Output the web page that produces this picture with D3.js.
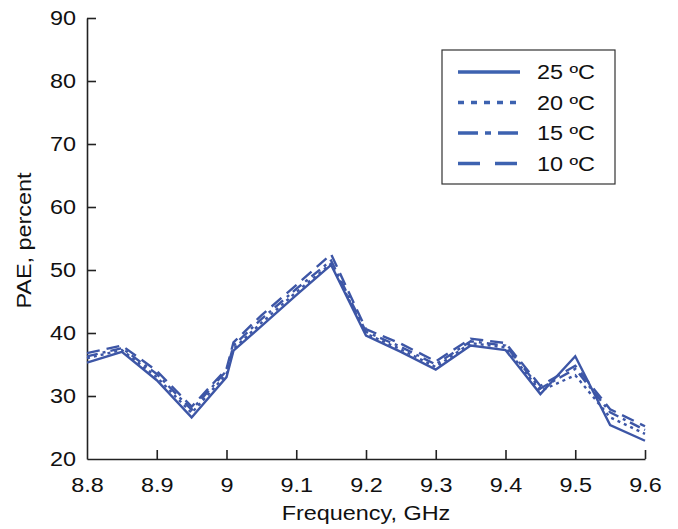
<!DOCTYPE html>
<html>
<head>
<meta charset="utf-8">
<script src="https://cdn.jsdelivr.net/npm/d3@7"></script>
<style>
  body { margin: 0; background: #fff; }
  svg text { font-family: "Liberation Sans", Arial, sans-serif; fill: #111; }
</style>
</head>
<body>
<div id="chart"></div>
<script>
"use strict";

// Data
var freq = [8.8, 8.85, 8.9, 8.95, 9.0, 9.01, 9.05, 9.1, 9.15, 9.2, 9.25, 9.3, 9.35, 9.4, 9.45, 9.5, 9.55, 9.6];
var pae25 = [35.3, 37.0, 32.5, 26.6, 33.0, 37.2, 41.1, 46.0, 50.8, 39.6, 37.0, 34.2, 38.0, 37.3, 30.3, 36.3, 25.4, 22.9];
var pae20 = [36.0, 37.3, 33.0, 27.3, 33.5, 37.5, 41.6, 46.5, 51.0, 39.9, 37.4, 34.6, 38.4, 37.7, 30.8, 33.3, 26.6, 24.0];
var pae15 = [36.3, 37.6, 33.5, 27.8, 34.0, 38.0, 42.2, 47.0, 51.5, 40.2, 37.8, 35.0, 38.7, 38.0, 31.2, 34.3, 27.4, 24.6];
var pae10 = [36.8, 38.0, 34.0, 28.3, 34.3, 38.5, 42.8, 47.6, 52.5, 40.6, 38.3, 35.5, 39.1, 38.4, 31.6, 34.8, 27.9, 25.2];
var seriesNames = ["25 \u00baC", "20 \u00baC", "15 \u00baC", "10 \u00baC"];
var xTicks = [8.8, 8.9, 9.0, 9.1, 9.2, 9.3, 9.4, 9.5, 9.6];
var yTicks = [20, 30, 40, 50, 60, 70, 80, 90];

var series = [pae25, pae20, pae15, pae10];
var dashes = [null, "3,4", "11,5,3,5", "13,7"];
var legendDashes = [null, "6,7", "20,7,6,7", "22,15"];
var color = "#3d56a6";

//
// Setup Variables
//
var canvasWidth = 678, canvasHeight = 529;
var margin = { left: 87, top: 18, right: 33, bottom: 70 };
var width = canvasWidth - margin.left - margin.right;
var height = canvasHeight - margin.top - margin.bottom;

var x = d3.scaleLinear().domain([8.8, 9.6]).range([0, width]);
var y = d3.scaleLinear().domain([20, 90]).range([height, 0]);

//
// Draw Canvas
//
var svg = d3.select("#chart")
  .append("svg")
    .attr("width", canvasWidth)
    .attr("height", canvasHeight)
  .append("g")
    .attr("transform", "translate(" + margin.left + "," + margin.top + ")");

//
// Axes
//
var xAxis = d3.axisTop(x)
  .tickValues(xTicks)
  .tickSize(9)
  .tickSizeOuter(0)
  .tickFormat(function(d) { return d3.format("")(+d.toFixed(1)); });

var gx = svg.append("g")
  .attr("transform", "translate(0," + height + ")")
  .call(xAxis);
gx.selectAll("text")
  .attr("y", 19)
  .attr("dy", "0.71em")
  .style("font-size", "19.5px");

var yAxis = d3.axisRight(y)
  .tickValues(yTicks)
  .tickSize(9)
  .tickSizeOuter(0);

var gy = svg.append("g").call(yAxis);
gy.selectAll("text")
  .attr("x", -11)
  .attr("text-anchor", "end")
  .style("font-size", "19.5px");

[gx, gy].forEach(function(g) {
  g.select(".domain").attr("stroke", "#222").attr("stroke-width", 1.6);
  g.selectAll(".tick line").attr("stroke", "#222").attr("stroke-width", 1.6);
  g.selectAll(".tick").filter(function(d) { return d === 20 || d === 8.8; })
    .select("line").remove();
  g.selectAll("text").attr("fill", "#111").style("font-family", "Liberation Sans, Arial, sans-serif");
});

svg.append("text")
  .attr("transform", "translate(" + (-56) + "," + (height / 2 + 2) + ") rotate(-90)")
  .attr("text-anchor", "middle")
  .style("font-size", "19.5px")
  .text("PAE, percent");

svg.append("text")
  .attr("x", (366 - margin.left))
  .attr("y", height + 61)
  .attr("text-anchor", "middle")
  .style("font-size", "19.5px")
  .text("Frequency, GHz");

//
// Lines
//
var line = d3.line()
  .x(function(d, i) { return x(freq[i]); })
  .y(function(d) { return y(d); });

series.forEach(function(s, k) {
  svg.append("path")
    .datum(s)
    .attr("fill", "none")
    .attr("stroke", color)
    .attr("stroke-width", 2.4)
    .attr("stroke-dasharray", dashes[k])
    .attr("d", line);
});

//
// Legend
//
var legend = svg.append("g")
  .attr("transform", "translate(" + (442 - margin.left) + "," + (50 - margin.top) + ")");

legend.append("rect")
  .attr("width", 173)
  .attr("height", 134)
  .attr("fill", "#fff")
  .attr("stroke", "#333")
  .attr("stroke-width", 1.2);

seriesNames.forEach(function(name, k) {
  var ly = 22 + k * 30.5;
  legend.append("line")
    .attr("x1", 16).attr("x2", 78)
    .attr("y1", ly).attr("y2", ly)
    .attr("stroke", "#3d62b0")
    .attr("stroke-width", 3.5)
    .attr("stroke-dasharray", legendDashes[k]);
  legend.append("text")
    .attr("x", 95)
    .attr("y", ly + 7)
    .style("font-size", "19.5px")
    .text(name);
});

// the source figure uses a wider face; stretch text horizontally
svg.selectAll("text").each(function() {
  var len = this.getComputedTextLength();
  d3.select(this)
    .attr("textLength", len * 1.2)
    .attr("lengthAdjust", "spacingAndGlyphs");
});
</script>
</body>
</html>
